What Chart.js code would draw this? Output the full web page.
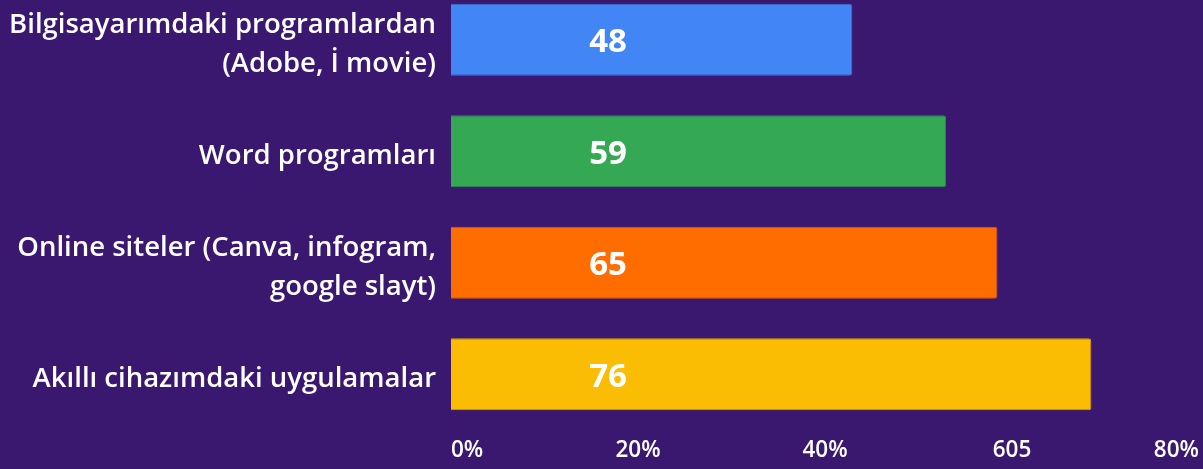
<!DOCTYPE html>
<html>
<head>
<meta charset="utf-8">
<script src="https://cdn.jsdelivr.net/npm/chart.js@4"></script>
<style>
  html, body { margin: 0; padding: 0; background: #3a1870; overflow: hidden; }
  #wrap { width: 1203px; height: 469px; overflow: hidden; position: relative; }
  /* the first band starts above the picture, so the canvas is a bit taller and moved up */
  #inner { width: 1203px; height: 493px; position: absolute; top: -16px; left: 0; }
</style>
</head>
<body>
<div id="wrap"><div id="inner"><canvas id="bar-chart-tools"></canvas></div></div>
<script>
const categories = [
    ["Bilgisayarımdaki programlardan", "(Adobe, İ movie)"],
    "Word programları",
    ["Online siteler (Canva, infogram,", "google slayt)"],
    "Akıllı cihazımdaki uygulamalar",
];
const values = [48, 59, 65, 76];
const barColors = ["#4285f4", "#34a853", "#ff6d01", "#fbbc04"];
const barBorders = ["#3f6fd0", "#2f8f49", "#d95f0a", "#d9a307"];
const tickLabels = ["0%", "20%", "40%", "605", "80%"];

const fontFamily = "'Open Sans', 'Noto Sans', sans-serif";

// writes the value inside each bar
const valueLabels = {
    id: "valueLabels",
    afterDatasetsDraw(chart) {
        const ctx = chart.ctx;
        const xScale = chart.scales.x;
        const meta = chart.getDatasetMeta(0);
        ctx.save();
        ctx.fillStyle = "#ffffff";
        ctx.font = "bold 33px " + fontFamily;
        ctx.textAlign = "center";
        ctx.textBaseline = "middle";
        meta.data.forEach((bar, i) => {
            ctx.fillText(values[i], xScale.getPixelForValue(19.4), bar.y + 3);
        });
        ctx.restore();
    },
};

const ctxTools = document.querySelector("#bar-chart-tools").getContext("2d");

new Chart(ctxTools, {
    type: "bar",
    data: {
        labels: categories,
        datasets: [
            {
                data: values,
                backgroundColor: barColors,
                borderColor: barBorders,
                borderWidth: 1,
                borderRadius: 3,
                borderSkipped: "start",
                barPercentage: 0.645,
                categoryPercentage: 1,
            },
        ],
    },
    options: {
        indexAxis: "y",
        responsive: true,
        maintainAspectRatio: false,
        animation: false,
        layout: {
            padding: { top: 0, bottom: 6, left: 0, right: 4 },
        },
        scales: {
            x: {
                display: false,
                min: 1,
                max: 88.6,
            },
            xt: {
                type: "category",
                labels: tickLabels,
                position: "bottom",
                offset: false,
                grid: { display: false, drawTicks: false },
                border: { display: false },
                afterFit(scale) {
                    scale.paddingLeft = 0;
                    scale.paddingRight = 0;
                },
                ticks: {
                    color: "#ffffff",
                    align: "inner",
                    autoSkip: false,
                    maxRotation: 0,
                    padding: 7,
                    font: { family: fontFamily, size: 22.5, weight: "600" },
                },
            },
            y: {
                grid: { display: false, drawTicks: false },
                border: { display: false },
                afterFit(scale) {
                    scale.width = 451;
                    scale.paddingTop = 0;
                    scale.paddingBottom = 0;
                },
                ticks: {
                    color: "#ffffff",
                    padding: 15,
                    labelOffset: 5,
                    font: { family: fontFamily, size: 27.5, weight: "600", lineHeight: 1.4 },
                },
            },
        },
        plugins: {
            legend: { display: false },
            tooltip: { enabled: false },
        },
    },
    plugins: [valueLabels],
});
</script>
</body>
</html>
